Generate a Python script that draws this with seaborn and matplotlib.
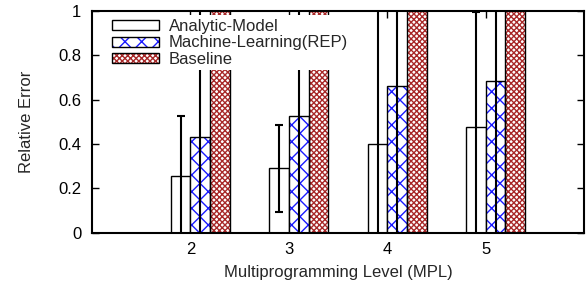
"""Relative error per multiprogramming level: analytic model vs ML vs baseline."""

import matplotlib

matplotlib.use("Agg")
import matplotlib.pyplot as plt
import pandas as pd
import seaborn as sns
from matplotlib.legend_handler import HandlerTuple
from matplotlib.patches import Patch, Rectangle

mpl_levels = ["2", "3", "4", "5"]
series = ["Analytic-Model", "Machine-Learning(REP)", "Baseline"]
analytic = [0.255, 0.29, 0.40, 0.478]
analytic_err = [0.27, 0.197, 0.65, 0.52]
ml_rep = [0.43, 0.525, 0.66, 0.684]
ml_rep_err = [0.6, 0.55, 0.7, 0.75]
baseline = [1.4, 1.6, 1.9, 2.1]
y_ticks = [0, 0.2, 0.4, 0.6, 0.8, 1]
y_tick_labels = ["0", "0.2", "0.4", "0.6", "0.8", "1"]

df = pd.DataFrame(
    {
        "MPL": mpl_levels * 3,
        "Series": [s for s in series for _ in mpl_levels],
        "Error": analytic + ml_rep + baseline,
    }
)

# fill, hatch pattern, hatch colour per series
styles = [
    ("white", "", "black"),
    ("white", "xx", "#1a1aff"),
    ("white", "xxxxxx", "#a82828"),
]

sns.set_theme(style="ticks")
plt.rcParams["font.family"] = ["Liberation Sans", "DejaVu Sans"]
plt.rcParams["hatch.linewidth"] = 1.0

fig = plt.figure(figsize=(5.86, 2.91), dpi=100)
ax = fig.add_axes([0.157, 0.201, 0.84, 0.761])

sns.barplot(
    data=df,
    x="MPL",
    y="Error",
    hue="Series",
    order=mpl_levels,
    hue_order=series,
    palette=["white"] * 3,
    width=0.6,
    saturation=1,
    edgecolor="black",
    linewidth=1,
    legend=False,
    ax=ax,
)

for container, (fill, hatch, hcolor) in zip(ax.containers, styles):
    for patch in container:
        patch.set_facecolor(fill)
        if hatch:
            patch.set_hatch(hatch)
            patch.set_edgecolor(hcolor)
            patch.set_linewidth(0)
            ax.add_patch(
                Rectangle(
                    (patch.get_x(), patch.get_y()),
                    patch.get_width(),
                    patch.get_height(),
                    fill=False,
                    edgecolor="black",
                    linewidth=1,
                    zorder=patch.get_zorder() + 0.1,
                )
            )

for container, vals, errs in zip(ax.containers, [analytic, ml_rep], [analytic_err, ml_rep_err]):
    centers = [p.get_x() + p.get_width() / 2 for p in container]
    ax.errorbar(
        centers,
        vals,
        yerr=errs,
        fmt="none",
        ecolor="black",
        elinewidth=1.5,
        capsize=3,
        capthick=1.5,
        zorder=5,
    )

ax.set_xlim(-1.1, 3.9)
ax.set_ylim(0, 1)
ax.set_xticks([i - 0.1 for i in range(len(mpl_levels))], mpl_levels)
ax.set_yticks(y_ticks, y_tick_labels)
ax.tick_params(direction="in", top=True, right=True, length=5, width=1, labelsize=12, colors="black")
ax.tick_params(axis="x", pad=6.5)
ax.tick_params(axis="y", pad=7.8)
for spine in ax.spines.values():
    spine.set_linewidth(1.5)
    spine.set_color("black")
    spine.set_zorder(6)
ax.set_xlabel("Multiprogramming Level (MPL)", fontsize=12, labelpad=6)
ax.set_ylabel("Relative Error", fontsize=12, labelpad=17.5)

handles = []
for fill, hatch, hcolor in styles:
    if hatch:
        handles.append(
            (
                Patch(facecolor=fill, edgecolor=hcolor, hatch=hatch, linewidth=0),
                Patch(fill=False, edgecolor="black", linewidth=1),
            )
        )
    else:
        handles.append(Patch(facecolor=fill, edgecolor="black", linewidth=1))

leg = ax.legend(
    handles,
    series,
    handler_map={tuple: HandlerTuple(ndivide=1)},
    loc="upper left",
    bbox_to_anchor=(0.034, 0.98),
    fontsize=12,
    frameon=True,
    fancybox=False,
    framealpha=1,
    edgecolor="none",
    handlelength=2.8,
    handleheight=0.55,
    handletextpad=0.6,
    labelspacing=0.1,
    borderpad=0.2,
    borderaxespad=0,
)
leg.set_zorder(10)

fig.savefig("out.png", dpi=100)
